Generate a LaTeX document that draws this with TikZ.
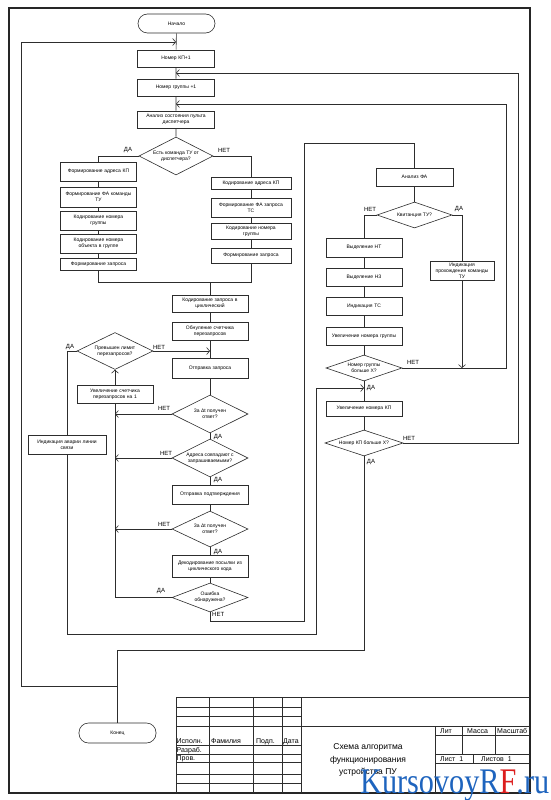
\documentclass[tikz,border=0pt]{standalone}
\usepackage{fontspec}
\setmainfont{Liberation Sans}
\newfontfamily\wmfont{Liberation Serif}
\usetikzlibrary{shapes.geometric,arrows.meta}
\definecolor{ln}{RGB}{45,45,45}
\definecolor{wmblue}{RGB}{30,100,190}
\definecolor{wmred}{RGB}{220,30,30}
\begin{document}
\begin{tikzpicture}[x=1pt,y=-1pt,
  every node/.style={inner sep=0pt},
  blk/.style={draw=ln, line width=0.6pt, fill=white, rectangle, align=center,
     font=\fontsize{5}{6}\selectfont, text width=74pt},
  term/.style={draw=ln, line width=0.6pt, fill=white, rectangle, rounded corners=9.5pt,
     align=center, font=\fontsize{5}{6}\selectfont},
  dia/.style={draw=ln, line width=0.6pt, fill=white, diamond, align=center,
     font=\fontsize{5}{6}\selectfont, inner sep=0pt},
  con/.style={draw=ln, line width=0.6pt},
  arr/.style={-{Straight Barb[length=3pt,width=7pt]}},
  lbl/.style={font=\fontsize{6}{7}\selectfont},
  tb/.style={draw=ln, line width=0.7pt},
  tbt/.style={font=\fontsize{7}{8}\selectfont, anchor=base west}
]
\useasboundingbox (0,0) rectangle (550,800);
% frame
\draw[line width=1.4pt, draw=black!85] (9,8) rectangle (530,793);

% ---- upper main column
\node[term, minimum width=77, minimum height=19] (start) at (176.5,23.5) {Начало};
\node[blk, minimum width=77, minimum height=17] (n1) at (176,58.5) {Номер КП+1};
\node[blk, minimum width=77, minimum height=17] (n2) at (176,87.5) {Номер группы +1};
\node[blk, minimum width=77, minimum height=17] (n3) at (176,119.5) {Анализ состояния пульта\\диспетчера};
\node[dia, minimum width=74, minimum height=38, shape aspect=1.95] (d1) at (176,156) {Есть команда ТУ от\\диспетчера?};

% left branch
\node[blk, minimum width=76, minimum height=19] (l1) at (98.5,171.5) {Формирование адреса КП};
\node[blk, minimum width=76, minimum height=20] (l2) at (98.5,197) {Формирование ФА команды\\ТУ};
\node[blk, minimum width=76, minimum height=19] (l3) at (98.5,220.5) {Кодирование номера\\группы};
\node[blk, minimum width=76, minimum height=19] (l4) at (98.5,243.5) {Кодирование номера\\объекта в группе};
\node[blk, minimum width=76, minimum height=12] (l5) at (98.5,264) {Формирование запроса};
% right branch
\node[blk, minimum width=80, minimum height=12] (r1) at (251,183) {Кодирование адреса КП};
\node[blk, minimum width=80, minimum height=19] (r2) at (251,207.5) {Формирование ФА запроса\\ТС};
\node[blk, minimum width=80, minimum height=16] (r3) at (251,231) {Кодирование номера\\группы};
\node[blk, minimum width=80, minimum height=15] (r4) at (251,255.5) {Формирование запроса};

% ---- lower main column
\node[blk, minimum width=76, minimum height=17] (c1) at (210,303.5) {Кодирование запроса в\\циклический};
\node[blk, minimum width=76, minimum height=18] (c2) at (210,331) {Обнуление счетчика\\перезапросов};
\node[blk, minimum width=76, minimum height=20] (c3) at (210,368) {Отправка запроса};
\node[dia, minimum width=76, minimum height=38, shape aspect=2] (d3) at (210,414) {За Δt получен\\ответ?};
\node[dia, minimum width=76, minimum height=38, shape aspect=2] (d4) at (210,458) {Адреса совпадают с\\запрашиваемыми?};
\node[blk, minimum width=76, minimum height=19] (c4) at (210,494.5) {Отправка подтверждения};
\node[dia, minimum width=76, minimum height=36, shape aspect=2.1] (d5) at (210,529) {За Δt получен\\ответ?};
\node[blk, minimum width=76, minimum height=22] (c5) at (210,566) {Декодирование посылки из\\циклического кода};
\node[dia, minimum width=76, minimum height=29, shape aspect=2.6] (d6) at (210,597.5) {Ошибка\\обнаружена?};

% ---- left side column
\node[dia, minimum width=76, minimum height=37, shape aspect=2] (d2) at (115,351) {Превышен лимит\\перезапросов?};
\node[blk, minimum width=76, minimum height=18] (b1) at (115,394) {Увеличение счетчика\\перезапросов на 1};
\node[blk, minimum width=78, minimum height=19] (a1) at (67,444.5) {Индикация аварии линии\\связи};

% ---- right column
\node[blk, minimum width=77, minimum height=18] (f1) at (414.5,177) {Анализ ФА};
\node[dia, minimum width=75, minimum height=26, shape aspect=2.9] (d7) at (414.5,215) {Квитанция ТУ?};
\node[blk, minimum width=76, minimum height=19] (g1) at (364,247.5) {Выделение НТ};
\node[blk, minimum width=76, minimum height=18] (g2) at (364,277) {Выделение НЗ};
\node[blk, minimum width=76, minimum height=18] (g3) at (364,306) {Индикация ТС};
\node[blk, minimum width=76, minimum height=18] (g4) at (364,336) {Увеличение номера группы};
\node[dia, minimum width=76, minimum height=26, shape aspect=2.9] (d8) at (364,368) {Номер группы\\больше X?};
\node[blk, minimum width=76, minimum height=15] (g5) at (364,408.5) {Увеличение номера КП};
\node[dia, minimum width=78, minimum height=26, shape aspect=3] (d9) at (364,443) {Номер КП больше X?};
\node[blk, minimum width=64, minimum height=19, text width=62pt] (h1) at (462,270.5) {Индикация\\прохождения команды\\ТУ};

\node[term, minimum width=77, minimum height=20] (kon) at (117.5,733) {Конец};

% ---- coordinates
\coordinate (ax42) at (176,42);
\coordinate (ax73) at (176,73);
\coordinate (ax104) at (176,104);
\coordinate (mrgL) at (98.5,282);
\coordinate (mrgR) at (251,282);
\coordinate (mrgC) at (210,282);
\coordinate (j0) at (364,650);
\coordinate (j1) at (117.5,650);
\coordinate (j2) at (117.5,686);
\coordinate (lp1) at (21,686);
\coordinate (lp2) at (21,42);
\coordinate (rr1) at (506,368);
\coordinate (rr2) at (506,104);
\coordinate (rs1) at (518,443);
\coordinate (rs2) at (518,73);
\coordinate (e1) at (210,621);
\coordinate (e2) at (304,621);
\coordinate (e3) at (304,143);
\coordinate (e4) at (414.5,143);
\coordinate (al1) at (67,634);
\coordinate (al2) at (316,634);
\coordinate (al3) at (316,388);
\coordinate (al4) at (364,388);
\coordinate (hx) at (462,368);

% ---- connectors
\draw[con] (start) -- (n1) -- (n2) -- (n3) -- (d1);
\draw[con,arr] (j2) -- (lp1) -- (lp2) -- (ax42);
\draw[con,arr] (d9.east) -- (rs1) -- (rs2) -- (ax73);
\draw[con,arr] (d8.east) -- (rr1) -- (rr2) -- (ax104);
\draw[con] (d1.west) -| (l1.north);
\draw[con] (d1.east) -| (r1.north);
\draw[con] (l1) -- (l2) -- (l3) -- (l4) -- (l5);
\draw[con] (r1) -- (r2) -- (r3) -- (r4);
\draw[con] (l5.south) -- (mrgL) -- (mrgR) -- (r4.south);
\draw[con] (mrgC) -- (c1.north);
\draw[con] (c1) -- (c2) -- (c3) -- (d3) -- (d4) -- (c4) -- (d5) -- (c5) -- (d6);
\draw[con,arr] (d2.east) -- (d2.east -| c2.south);
\draw[con,arr] (d3.west) -- (d3.west -| b1.south);
\draw[con,arr] (d4.west) -- (d4.west -| b1.south);
\draw[con,arr] (d5.west) -- (d5.west -| b1.south);
\draw[con] (d6.west) -| (b1.south);
\draw[con,arr] (b1.north) -- (d2.south);
\draw[con] (d2.west) -| (a1.north);
\draw[con,arr] (a1.south) -- (al1) -- (al2) -- (al3) -- (al4);
\draw[con] (d6.south) -- (e1) -- (e2) -- (e3) -- (e4) -- (f1.north);
\draw[con] (f1) -- (d7);
\draw[con] (d7.west) -| (g1.north);
\draw[con] (d7.east) -| (h1.north);
\draw[con] (g1) -- (g2) -- (g3) -- (g4) -- (d8) -- (g5) -- (d9);
\draw[con,arr] (h1.south) -- (hx);
\draw[con] (d9.south) -- (j0) -- (j1) -- (kon.north);

% ---- labels
\node[lbl] at (128,150) {ДА};
\node[lbl] at (224,150) {НЕТ};
\node[lbl] at (70,347) {ДА};
\node[lbl] at (159,347) {НЕТ};
\node[lbl] at (164,408) {НЕТ};
\node[lbl] at (218,437) {ДА};
\node[lbl] at (166,453) {НЕТ};
\node[lbl] at (218,480) {ДА};
\node[lbl] at (164,524) {НЕТ};
\node[lbl] at (218,552) {ДА};
\node[lbl] at (161,591) {ДА};
\node[lbl,anchor=west] at (212,614.5) {НЕТ};
\node[lbl] at (370,209) {НЕТ};
\node[lbl] at (459,209) {ДА};
\node[lbl] at (413,362) {НЕТ};
\node[lbl] at (371,388) {ДА};
\node[lbl] at (409,438) {НЕТ};
\node[lbl] at (371,462) {ДА};

% ---- title block
\draw[tb] (176,697.7) -- (530,697.7);
\draw[tb] (176,697.7) -- (176,793);
\foreach \xx in {209.2,253,282,301}{\draw[tb] (\xx,697.7) -- (\xx,793);}
\foreach \yy in {707.3,716.7,745.7,754,762.7,774,783.3}{\draw[tb] (176,\yy) -- (301,\yy);}
\draw[tb] (176,726.7) -- (530,726.7);
\draw[tb] (435,726.7) -- (435,793);
\draw[tb] (435,735) -- (530,735);
\draw[tb] (435,754) -- (530,754);
\draw[tb] (435,763.3) -- (530,763.3);
\draw[tb] (462.6,726.7) -- (462.6,754);
\draw[tb] (495.7,726.7) -- (495.7,754);
\draw[tb] (473,754) -- (473,763.3);
\node[tbt] at (176.5,743.5) {Исполн.};
\node[tbt] at (211,743.5) {Фамилия};
\node[tbt] at (256,743.5) {Подп.};
\node[tbt] at (283,743.5) {Дата};
\node[tbt] at (176.5,752.3) {Разраб.};
\node[tbt] at (176.5,760.8) {Пров.};
\node[tbt] at (440,733.5) {Лит};
\node[tbt] at (467,733.5) {Масса};
\node[tbt] at (497,733.5) {Масштаб};
\node[tbt] at (440,761.5) {Лист\ \ 1};
\node[tbt] at (481,761.5) {Листов\ \ 1};
\node[align=center, font=\fontsize{8.5}{12.5}\selectfont] (ttl) at (368,760) {Схема алгоритма\\функционирования\\устройства ПУ};

% ---- watermark
\node[anchor=base west] (wm) at (360,793) {\wmfont\fontsize{36}{36}\selectfont\scalebox{0.84}[1]{\textcolor{wmblue}{KursovoyR}\textcolor{wmred}{F}\textcolor{wmblue}{.ru}}};
\end{tikzpicture}
\end{document}
